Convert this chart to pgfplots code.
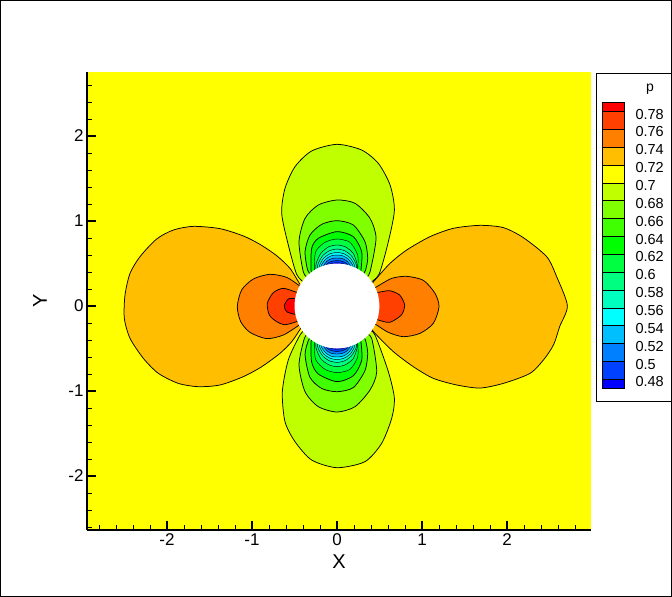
\documentclass[border=0pt]{standalone}
\usepackage{fontspec}
\setmainfont{Liberation Sans}
\usepackage{pgfplots}
\pgfplotsset{compat=1.18}
\definecolor{c78}{RGB}{255,0,0}
\definecolor{c76}{RGB}{255,64,0}
\definecolor{c74}{RGB}{255,128,0}
\definecolor{c72}{RGB}{255,191,0}
\definecolor{c70}{RGB}{255,255,0}
\definecolor{c68}{RGB}{191,255,0}
\definecolor{c66}{RGB}{128,255,0}
\definecolor{c64}{RGB}{64,255,0}
\definecolor{c62}{RGB}{0,255,0}
\definecolor{c60}{RGB}{0,255,64}
\definecolor{c58}{RGB}{0,255,128}
\definecolor{c56}{RGB}{0,255,191}
\definecolor{c54}{RGB}{0,255,255}
\definecolor{c52}{RGB}{0,191,255}
\definecolor{c50}{RGB}{0,128,255}
\definecolor{c48}{RGB}{0,64,255}
\definecolor{c46}{RGB}{0,0,255}
\pgfplotsset{lev/.style={fill=#1,draw=black,line width=0.75pt,smooth,tension=0.45,mark=none},
 levi/.style={fill=#1,draw=black,line width=0.45pt,smooth,tension=0.45,mark=none}}
\begin{document}
\begin{tikzpicture}[x=1pt,y=1pt]
\path[use as bounding box] (0,0) rectangle (672,597);
\draw[black,line width=1pt] (0.5,0.5) rectangle (671.5,596.5);
\begin{axis}[
  at={(87pt,67pt)},anchor=south west,scale only axis,width=503.5pt,height=458pt,
  xmin=-2.941,xmax=2.982,ymin=-2.635,ymax=2.753,
  axis x line*=bottom,axis y line*=left,axis on top,
  axis background/.style={fill=c70},
  axis line style={line width=1.7pt},
  xtick={-3,-2,-1,0,1,2,3},ytick={-3,-2,-1,0,1,2,3},
  minor tick num=4,tick align=inside,
  major tick length=9pt,minor tick length=5pt,
  major tick style={black,line width=1.6pt},minor tick style={black,line width=0.9pt},
  tick label style={font=\fontsize{17}{17}\selectfont},
  /pgf/number format/assume math mode=true,
]
% right lobe
\addplot[lev=c72] coordinates {(0.40,0.25)(0.447,0.306)(0.624,0.502)(0.82,0.659)(1.094,0.816)(1.369,0.914)(1.682,0.949)(1.957,0.922)(2.192,0.804)(2.467,0.58)(2.584,0.345)(2.71,0.004)(2.62,-0.24)(2.55,-0.45)(2.44,-0.62)(2.271,-0.792)(1.957,-0.91)(1.682,-0.965)(1.408,-0.929)(1.133,-0.851)(0.898,-0.714)(0.663,-0.537)(0.447,-0.322)(0.40,-0.26)} --cycle;
\addplot[lev=c74] coordinates {(0.42,0.20)(0.467,0.227)(0.643,0.325)(0.82,0.349)(1.016,0.302)(1.153,0.149)(1.2,-0.008)(1.133,-0.204)(0.976,-0.322)(0.78,-0.361)(0.604,-0.31)(0.467,-0.224)(0.42,-0.20)} --cycle;
\addplot[lev=c76] coordinates {(0.45,0.16)(0.486,0.161)(0.62,0.18)(0.737,0.129)(0.796,0.012)(0.757,-0.106)(0.62,-0.192)(0.486,-0.165)(0.45,-0.15)} --cycle;
% left lobe
\addplot[lev=c72] coordinates {(-0.40,0.23)(-0.435,0.255)(-0.553,0.443)(-0.71,0.592)(-0.906,0.725)(-1.102,0.824)(-1.376,0.91)(-1.69,0.937)(-1.925,0.894)(-2.122,0.788)(-2.318,0.58)(-2.435,0.384)(-2.494,0.129)(-2.502,-0.145)(-2.435,-0.38)(-2.278,-0.616)(-2.102,-0.792)(-1.867,-0.91)(-1.631,-0.949)(-1.376,-0.929)(-1.102,-0.831)(-0.886,-0.714)(-0.671,-0.557)(-0.533,-0.42)(-0.427,-0.263)(-0.40,-0.23)} --cycle;
\addplot[lev=c74] coordinates {(-0.42,0.22)(-0.443,0.239)(-0.592,0.337)(-0.788,0.373)(-0.984,0.318)(-1.122,0.188)(-1.173,-0.008)(-1.133,-0.184)(-1.024,-0.31)(-0.827,-0.384)(-0.631,-0.341)(-0.443,-0.224)(-0.42,-0.21)} --cycle;
\addplot[lev=c76] coordinates {(-0.45,0.16)(-0.475,0.161)(-0.631,0.208)(-0.749,0.157)(-0.82,0.031)(-0.796,-0.106)(-0.71,-0.184)(-0.612,-0.22)(-0.475,-0.184)(-0.45,-0.17)} --cycle;
\addplot[lev=c78] coordinates {(-0.46,0.09)(-0.494,0.09)(-0.573,0.082)(-0.62,0.004)(-0.592,-0.067)(-0.494,-0.098)(-0.46,-0.098)} --cycle;
% upper lobe
\addplot[lev=c68] coordinates {(-0.38,0.27)(-0.475,0.373)(-0.573,0.718)(-0.651,1.09)(-0.612,1.384)(-0.494,1.639)(-0.298,1.824)(0,1.902)(0.29,1.835)(0.486,1.678)(0.624,1.424)(0.675,1.129)(0.604,0.757)(0.494,0.373)(0.38,0.27)} --cycle;
\addplot[lev=c66] coordinates {(-0.33,0.32)(-0.396,0.40)(-0.447,0.757)(-0.376,1.031)(-0.22,1.188)(0,1.247)(0.212,1.208)(0.388,1.031)(0.459,0.796)(0.388,0.40)(0.33,0.32)} --cycle;
\addplot[lev=c64] coordinates {(-0.30,0.36)(-0.345,0.42)(-0.376,0.639)(-0.318,0.835)(-0.18,0.961)(0,1.004)(0.192,0.953)(0.329,0.757)(0.361,0.561)(0.335,0.42)(0.30,0.36)} --cycle;
\addplot[lev=c62] coordinates {(-0.28,0.37)(-0.306,0.42)(-0.298,0.678)(-0.22,0.796)(0,0.875)(0.192,0.816)(0.29,0.639)(0.282,0.42)(0.27,0.37)} --cycle;
\addplot[levi=c60] coordinates {(-0.26,0.38)(-0.267,0.43)(-0.251,0.639)(-0.141,0.749)(0,0.788)(0.153,0.749)(0.243,0.6)(0.243,0.43)(0.24,0.38)} --cycle;
\addplot[levi=c58] coordinates {(-0.25,0.40)(-0.245,0.50)(-0.19,0.62)(-0.10,0.695)(0,0.718)(0.10,0.695)(0.19,0.62)(0.235,0.50)(0.24,0.40)} --cycle;
\addplot[levi=c56] coordinates {(-0.235,0.40)(-0.225,0.49)(-0.17,0.59)(-0.09,0.65)(0,0.67)(0.09,0.65)(0.17,0.59)(0.225,0.49)(0.235,0.40)} --cycle;
\addplot[levi=c54] coordinates {(-0.215,0.40)(-0.205,0.48)(-0.155,0.565)(-0.08,0.615)(0,0.63)(0.08,0.615)(0.155,0.565)(0.205,0.48)(0.215,0.40)} --cycle;
\addplot[levi=c52] coordinates {(-0.195,0.40)(-0.185,0.48)(-0.135,0.55)(-0.07,0.59)(0,0.60)(0.07,0.59)(0.135,0.55)(0.185,0.48)(0.195,0.40)} --cycle;
\addplot[levi=c50] coordinates {(-0.17,0.40)(-0.16,0.47)(-0.115,0.53)(-0.06,0.558)(0,0.565)(0.06,0.558)(0.115,0.53)(0.16,0.47)(0.17,0.40)} --cycle;
\addplot[levi=c48] coordinates {(-0.14,0.40)(-0.13,0.48)(-0.09,0.515)(-0.045,0.53)(0,0.535)(0.045,0.53)(0.09,0.515)(0.13,0.48)(0.14,0.40)} --cycle;
\addplot[levi=c46] coordinates {(-0.09,0.40)(-0.085,0.49)(-0.04,0.505)(0,0.508)(0.04,0.505)(0.085,0.49)(0.09,0.40)} --cycle;
% lower lobe
\addplot[lev=c68] coordinates {(-0.37,-0.28)(-0.435,-0.341)(-0.573,-0.635)(-0.643,-1.008)(-0.612,-1.361)(-0.494,-1.596)(-0.298,-1.812)(0,-1.902)(0.329,-1.831)(0.525,-1.616)(0.643,-1.322)(0.675,-1.086)(0.604,-0.773)(0.447,-0.341)(0.37,-0.28)} --cycle;
\addplot[lev=c66] coordinates {(-0.33,-0.32)(-0.384,-0.381)(-0.447,-0.694)(-0.376,-1.008)(-0.22,-1.184)(0,-1.247)(0.212,-1.184)(0.388,-0.988)(0.467,-0.773)(0.408,-0.381)(0.33,-0.32)} --cycle;
\addplot[lev=c64] coordinates {(-0.30,-0.35)(-0.335,-0.40)(-0.376,-0.573)(-0.318,-0.84)(-0.18,-0.97)(0,-1.008)(0.192,-0.96)(0.329,-0.76)(0.361,-0.56)(0.335,-0.40)(0.30,-0.35)} --cycle;
\addplot[lev=c62] coordinates {(-0.28,-0.37)(-0.306,-0.42)(-0.298,-0.66)(-0.22,-0.80)(0,-0.89)(0.192,-0.82)(0.29,-0.64)(0.282,-0.42)(0.27,-0.37)} --cycle;
\addplot[levi=c60] coordinates {(-0.26,-0.38)(-0.267,-0.43)(-0.251,-0.63)(-0.141,-0.745)(0,-0.784)(0.153,-0.745)(0.243,-0.6)(0.243,-0.43)(0.24,-0.38)} --cycle;
\addplot[levi=c58] coordinates {(-0.25,-0.40)(-0.245,-0.50)(-0.19,-0.62)(-0.10,-0.69)(0,-0.714)(0.10,-0.69)(0.19,-0.62)(0.235,-0.50)(0.24,-0.40)} --cycle;
\addplot[levi=c56] coordinates {(-0.235,-0.40)(-0.225,-0.49)(-0.17,-0.585)(-0.09,-0.645)(0,-0.663)(0.09,-0.645)(0.17,-0.585)(0.225,-0.49)(0.235,-0.40)} --cycle;
\addplot[levi=c54] coordinates {(-0.215,-0.40)(-0.205,-0.48)(-0.155,-0.565)(-0.08,-0.615)(0,-0.63)(0.08,-0.615)(0.155,-0.565)(0.205,-0.48)(0.215,-0.40)} --cycle;
\addplot[levi=c52] coordinates {(-0.195,-0.40)(-0.185,-0.48)(-0.135,-0.55)(-0.07,-0.59)(0,-0.60)(0.07,-0.59)(0.135,-0.55)(0.185,-0.48)(0.195,-0.40)} --cycle;
\addplot[levi=c50] coordinates {(-0.17,-0.40)(-0.16,-0.47)(-0.115,-0.53)(-0.06,-0.558)(0,-0.565)(0.06,-0.558)(0.115,-0.53)(0.16,-0.47)(0.17,-0.40)} --cycle;
\addplot[levi=c48] coordinates {(-0.14,-0.40)(-0.13,-0.48)(-0.09,-0.515)(-0.045,-0.53)(0,-0.535)(0.045,-0.53)(0.09,-0.515)(0.13,-0.48)(0.14,-0.40)} --cycle;
\addplot[levi=c46] coordinates {(-0.09,-0.40)(-0.085,-0.49)(-0.04,-0.505)(0,-0.508)(0.04,-0.505)(0.085,-0.49)(0.09,-0.40)} --cycle;
% body
\addplot[fill=white,draw=none,smooth,mark=none] coordinates {(0.5,0)(0.483,0.129)(0.433,0.25)(0.354,0.354)(0.25,0.433)(0.129,0.483)(0,0.5)(-0.129,0.483)(-0.25,0.433)(-0.354,0.354)(-0.433,0.25)(-0.483,0.129)(-0.5,0)(-0.483,-0.129)(-0.433,-0.25)(-0.354,-0.354)(-0.25,-0.433)(-0.129,-0.483)(0,-0.5)(0.129,-0.483)(0.25,-0.433)(0.354,-0.354)(0.433,-0.25)(0.483,-0.129)(0.5,0)} --cycle;
\end{axis}
\node[font=\fontsize{20}{20}\selectfont] at (339,35) {X};
\node[font=\fontsize{20}{20}\selectfont,rotate=90] at (40,296) {Y};
\fill[white] (596,195) rectangle (671,523);
\draw[black,line width=1pt] (596.5,195) rectangle (671.5,523);
\node[font=\fontsize{14}{14}\selectfont] at (650,508) {p};
\begin{axis}[
  at={(602pt,208.7pt)},anchor=south west,scale only axis,width=22pt,height=285.6pt,
  xmin=0,xmax=1,ymin=0.47,ymax=0.79,clip=false,
  axis line style={draw=none},tick style={draw=none},major tick length=0pt,
  xtick=\empty,
  ytick={0.48,0.50,0.52,0.54,0.56,0.58,0.60,0.62,0.64,0.66,0.68,0.70,0.72,0.74,0.76,0.78},
  yticklabels={0.48,0.5,0.52,0.54,0.56,0.58,0.6,0.62,0.64,0.66,0.68,0.7,0.72,0.74,0.76,0.78},
  yticklabel pos=right,
  yticklabel style={font=\fontsize{14.5}{15}\selectfont,anchor=west,xshift=8pt,yshift=-2.5pt},
]
\addplot[fill=c46,draw=black,line width=0.8pt,mark=none] coordinates {(0,0.47)(1,0.47)(1,0.48)(0,0.48)} --cycle;
\addplot[fill=c48,draw=black,line width=0.8pt,mark=none] coordinates {(0,0.48)(1,0.48)(1,0.50)(0,0.50)} --cycle;
\addplot[fill=c50,draw=black,line width=0.8pt,mark=none] coordinates {(0,0.50)(1,0.50)(1,0.52)(0,0.52)} --cycle;
\addplot[fill=c52,draw=black,line width=0.8pt,mark=none] coordinates {(0,0.52)(1,0.52)(1,0.54)(0,0.54)} --cycle;
\addplot[fill=c54,draw=black,line width=0.8pt,mark=none] coordinates {(0,0.54)(1,0.54)(1,0.56)(0,0.56)} --cycle;
\addplot[fill=c56,draw=black,line width=0.8pt,mark=none] coordinates {(0,0.56)(1,0.56)(1,0.58)(0,0.58)} --cycle;
\addplot[fill=c58,draw=black,line width=0.8pt,mark=none] coordinates {(0,0.58)(1,0.58)(1,0.60)(0,0.60)} --cycle;
\addplot[fill=c60,draw=black,line width=0.8pt,mark=none] coordinates {(0,0.60)(1,0.60)(1,0.62)(0,0.62)} --cycle;
\addplot[fill=c62,draw=black,line width=0.8pt,mark=none] coordinates {(0,0.62)(1,0.62)(1,0.64)(0,0.64)} --cycle;
\addplot[fill=c64,draw=black,line width=0.8pt,mark=none] coordinates {(0,0.64)(1,0.64)(1,0.66)(0,0.66)} --cycle;
\addplot[fill=c66,draw=black,line width=0.8pt,mark=none] coordinates {(0,0.66)(1,0.66)(1,0.68)(0,0.68)} --cycle;
\addplot[fill=c68,draw=black,line width=0.8pt,mark=none] coordinates {(0,0.68)(1,0.68)(1,0.70)(0,0.70)} --cycle;
\addplot[fill=c70,draw=black,line width=0.8pt,mark=none] coordinates {(0,0.70)(1,0.70)(1,0.72)(0,0.72)} --cycle;
\addplot[fill=c72,draw=black,line width=0.8pt,mark=none] coordinates {(0,0.72)(1,0.72)(1,0.74)(0,0.74)} --cycle;
\addplot[fill=c74,draw=black,line width=0.8pt,mark=none] coordinates {(0,0.74)(1,0.74)(1,0.76)(0,0.76)} --cycle;
\addplot[fill=c76,draw=black,line width=0.8pt,mark=none] coordinates {(0,0.76)(1,0.76)(1,0.78)(0,0.78)} --cycle;
\addplot[fill=c78,draw=black,line width=0.8pt,mark=none] coordinates {(0,0.78)(1,0.78)(1,0.79)(0,0.79)} --cycle;
\end{axis}
\end{tikzpicture}
\end{document}
